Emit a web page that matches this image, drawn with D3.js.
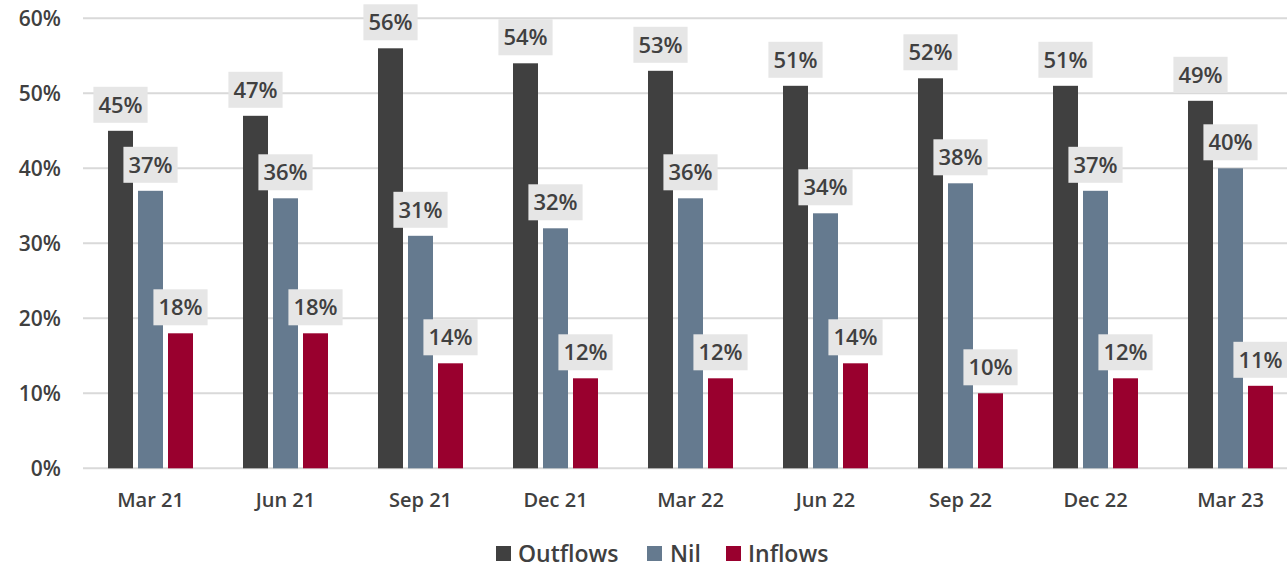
<!DOCTYPE html>
<html>
<head>
<meta charset="utf-8">
<script src="https://cdn.jsdelivr.net/npm/d3@7"></script>
<style>
  html, body { margin: 0; padding: 0; background: #ffffff; }
  svg { display: block; }
  svg text { font-family: "Open Sans", "Noto Sans", sans-serif; font-weight: 600; }
</style>
</head>
<body>
<svg id="chart" width="1287" height="568"></svg>
<script>
const categories = ["Mar 21", "Jun 21", "Sep 21", "Dec 21", "Mar 22", "Jun 22", "Sep 22", "Dec 22", "Mar 23"];
const outflows = [45, 47, 56, 54, 53, 51, 52, 51, 49];
const nil      = [37, 36, 31, 32, 36, 34, 38, 37, 40];
const inflows  = [18, 18, 14, 12, 12, 14, 10, 12, 11];
const seriesNames = ["Outflows", "Nil", "Inflows"];
const yTicks = [0, 10, 20, 30, 40, 50, 60];

const colors = { "Outflows": "#404040", "Nil": "#657a8f", "Inflows": "#99002e" };
const textColor = "#404040";
const FONT = '"Open Sans", "Noto Sans", sans-serif';

const svg = d3.select("#chart");
const left = 83, gridRight = 1287;
const yTop = 18.3, yBottom = 468.3;

const x0 = d3.scaleBand().domain(categories).range([left, left + 135 * categories.length]).paddingInner(0).paddingOuter(0);
const x1s = d3.scaleBand().domain(seriesNames).range([0, 90]).paddingInner(0);
const y = d3.scaleLinear().domain([0, 60]).range([yBottom, yTop]);

const seriesData = { "Outflows": outflows, "Nil": nil, "Inflows": inflows };

// gridlines
svg.append("g").selectAll("line").data(yTicks).join("line")
  .attr("x1", left).attr("x2", gridRight)
  .attr("y1", d => y(d)).attr("y2", d => y(d))
  .attr("stroke", "#d9d9d9").attr("stroke-width", 2);

// y axis labels
const yAxis = d3.axisLeft(y).tickValues(yTicks).tickFormat(d => d + "%").tickSize(0).tickPadding(0);
const yg = svg.append("g").attr("transform", `translate(61,0)`).call(yAxis);
yg.attr("font-family", null).attr("font-size", null);
yg.select(".domain").remove();
yg.selectAll("text").attr("fill", textColor)
  .style("font-family", FONT).style("font-size", "21px").style("font-weight", "600")
  .attr("dy", "0.36em");

// x axis labels
const xAxis = d3.axisBottom(x0).tickSize(0).tickPadding(0);
const xg = svg.append("g").attr("transform", `translate(0,${yBottom})`).call(xAxis);
xg.attr("font-family", null).attr("font-size", null);
xg.select(".domain").remove();
xg.selectAll("text").attr("fill", textColor)
  .style("font-family", FONT).style("font-size", "20px").style("font-weight", "600")
  .attr("y", 39).attr("dy", 0);

const groupWidth = 85;
const groupOffset = (x0.bandwidth() - groupWidth) / 2;

const flat = [];
categories.forEach((c, i) => {
  seriesNames.forEach(s => flat.push({ cat: c, series: s, value: seriesData[s][i] }));
});

const barW = 25;
function barX(d) { return x0(d.cat) + groupOffset + x1s(d.series); }

svg.append("g").selectAll("rect").data(flat).join("rect")
  .attr("x", d => barX(d))
  .attr("y", d => y(d.value))
  .attr("width", barW)
  .attr("height", d => y(0) - y(d.value))
  .attr("fill", d => colors[d.series]);

// labels
const lg = svg.append("g");
flat.forEach(d => {
  const cx = barX(d) + barW / 2;
  const bottom = y(d.value) - 8;
  const g = lg.append("g");
  const rect = g.append("rect").attr("fill", "#e6e6e6");
  const t = g.append("text").attr("x", cx).attr("y", bottom - 10)
    .attr("text-anchor", "middle").attr("fill", textColor)
    .style("font-family", FONT).style("font-size", "22px").style("font-weight", "600")
    .text(d.value + "%");
  const bb = t.node().getBBox();
  const w = bb.width + 10;
  rect.attr("x", cx - w / 2).attr("y", bottom - 36).attr("width", w).attr("height", 36);
});

// legend
const legendItems = [
  { name: "Outflows", sx: 496, tx: 518 },
  { name: "Nil", sx: 647, tx: 670 },
  { name: "Inflows", sx: 726, tx: 748 }
];
const leg = svg.append("g");
leg.selectAll("rect").data(legendItems).join("rect")
  .attr("x", d => d.sx).attr("y", 546).attr("width", 15).attr("height", 15)
  .attr("fill", d => colors[d.name]);
leg.selectAll("text").data(legendItems).join("text")
  .attr("x", d => d.tx).attr("y", 562)
  .attr("fill", textColor)
  .style("font-family", FONT).style("font-size", "23px").style("font-weight", "600")
  .text(d => d.name);
</script>
</body>
</html>
